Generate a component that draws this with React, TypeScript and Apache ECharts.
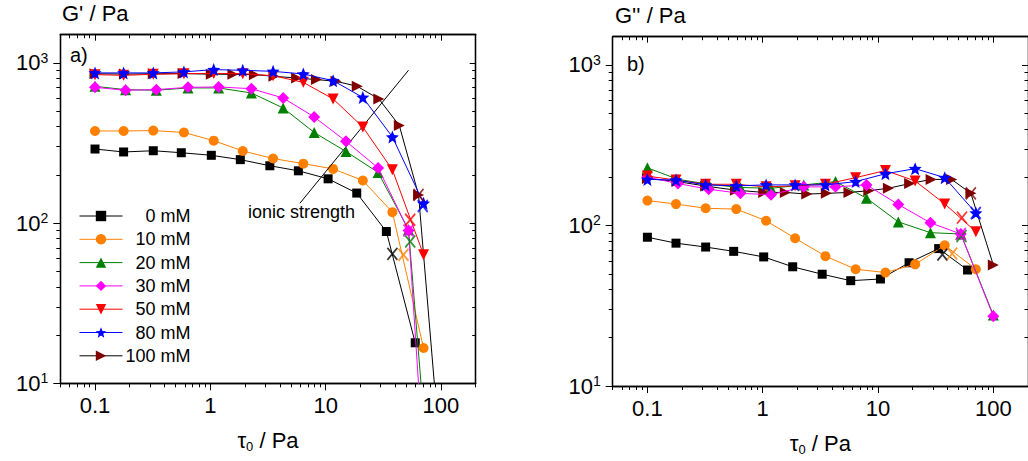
import React, { useEffect, useRef } from "react";
import * as echarts from "echarts";

const FONT = "'Liberation Sans', Arial, Helvetica, sans-serif";

const seriesNames = ["0 mM", "10 mM", "20 mM", "30 mM", "50 mM", "80 mM", "100 mM"];
const markerColors = ["#000000", "#FF8000", "#008000", "#FF00FF", "#FF0000", "#0000FF", "#800000"];
const lineColors = ["#000000", "#FF8000", "#008000", "#FF00FF", "#FF0000", "#0000FF", "#000000"];
const seriesZ = [3, 4, 5, 6, 7, 8, 2];

const STAR =
  "path://M0,-10L2.6,-3.6L9.5,-3.1L4.2,1.4L5.9,8.1L0,4.4L-5.9,8.1L-4.2,1.4L-9.5,-3.1L-2.6,-3.6Z";
const symbols = [
  "rect",
  "circle",
  "triangle",
  "diamond",
  "path://M0,0L10,0L5,8.66Z",
  STAR,
  "path://M0,0L8.66,5L0,10Z",
];
const symbolSizes = [9, 10, 11, 12, 11, 13, 11];
const CROSS = "path://M0,0L10,12M10,0L0,12";

// tick values
const xMajor = [0.1, 1, 10, 100];
const xMinor = [0.05, 0.06, 0.07, 0.08, 0.09, 0.2, 0.3, 0.4, 0.5, 0.6, 0.7, 0.8, 0.9, 2, 3, 4, 5, 6, 7, 8, 9, 20, 30, 40, 50, 60, 70, 80, 90, 200];
const yMajor = [10, 100, 1000];
const yMinor = [20, 30, 40, 50, 60, 70, 80, 90, 200, 300, 400, 500, 600, 700, 800, 900];

// shear stress values (Pa)
const tau0mM = [0.1, 0.177, 0.32, 0.56, 1.02, 1.82, 3.28, 5.8, 10.5, 18.6, 33.6, 59.8];
const tau10mM = [0.1, 0.177, 0.32, 0.59, 1.07, 1.91, 3.5, 6.4, 11.6, 21, 37.9, 70.6];
const tau20mM = [0.1, 0.184, 0.34, 0.64, 1.18, 2.27, 4.28, 7.95, 15, 28.5, 52.3, 100];
const tau100mM = [0.1, 0.18, 0.32, 0.58, 1.02, 1.57, 2.41, 3.56, 5.6, 8.32, 12.3, 18.8, 28.9, 43.5, 63.9, 100];

// G' (Pa)
const gStore0 = [290, 278, 283, 275, 265, 249, 228, 212, 189, 154, 88.6, 17.9];
const gStore10 = [376, 376, 378, 368, 327, 282, 253, 235, 218, 184.5, 117, 16.6];
const gStore20 = [714, 681, 675, 698, 698, 649, 523, 368, 280, 207, 91, 0.29];
const gStore30 = [704, 675, 681, 704, 708, 690, 604, 460, 324, 221, 90, 0.07];
const gStore50 = [845, 836, 849, 857, 860, 857, 832, 756, 596, 398, 215, 63.4];
const gStore80 = [866, 866, 866, 879, 908, 899, 886, 853, 775, 609, 345, 133];
const gStore100 = [855, 852, 855, 858, 850, 849, 845, 825, 805, 787, 768, 714, 596, 407, 150, 3.2];

// G'' (Pa)
const gLoss0 = [84.5, 77.6, 73.4, 69, 63.7, 55.3, 49.7, 45.3, 46.4, 58.6, 71.8, 52.8];
const gLoss10 = [143, 136, 128, 126.5, 107, 83.3, 64.4, 53.4, 50.9, 57.3, 75.2, 53.4];
const gLoss20 = [228.6, 194, 180.6, 172.5, 170.6, 179, 187.6, 148, 105.3, 90.2, 88.5, 27.7];
const gLoss30 = [200.4, 182.4, 168.3, 158.5, 155.6, 174, 174, 179, 135.2, 103.9, 88.5, 27.2];
const gLoss50 = [203, 192, 180.6, 180.6, 174, 176.6, 180.6, 198.6, 220, 189.4, 136.3, 91.5];
const gLoss80 = [193.7, 192, 179, 176.6, 179, 179, 179, 187.6, 210, 226, 198.6, 119.6];
const gLoss100 = [196, 188, 176, 166, 160.7, 160.7, 156.9, 158.5, 160.7, 164.6, 170.6, 182.3, 193.7, 193.7, 158.5, 56.8];

// yield points (marked with crosses): [tau, G]
const yieldStore: [number, number][] = [
  [37.9, 64.3], [47.3, 63.4], [54.1, 76.7], [52.3, 90], [54.1, 105], [69.5, 128], [63.9, 150],
];
const yieldLoss: [number, number][] = [
  [36.2, 65.9], [44, 66.8], [53, 86], [52.3, 88.5], [53.5, 112], [70.5, 119.6], [63.9, 158.5],
];

const tauBySeries = [tau0mM, tau10mM, tau20mM, tau20mM, tau10mM, tau10mM, tau100mM];
const storeBySeries = [gStore0, gStore10, gStore20, gStore30, gStore50, gStore80, gStore100];
const lossBySeries = [gLoss0, gLoss10, gLoss20, gLoss30, gLoss50, gLoss80, gLoss100];

const AXC = "#000000";

function axisSet(gridIndex: number, dim: "x" | "y", extra: any) {
  const isX = dim === "x";
  const min = isX ? 0.05 : 10;
  const max = isX ? 200 : 1500;
  const major = isX ? xMajor : yMajor;
  const minor = isX ? xMinor : yMinor;
  const base = {
    type: "log",
    logBase: 10,
    gridIndex,
    min,
    max,
    splitLine: { show: false },
    axisLine: { show: true, onZero: false, lineStyle: { color: AXC, width: 1.3 } },
  };
  const posMain = isX ? "bottom" : "left";
  const posMirror = isX ? "top" : "right";
  return [
    {
      ...base,
      position: posMain,
      axisTick: { show: true, inside: false, length: 7, customValues: major, lineStyle: { color: AXC, width: 1 } },
      axisLabel: {
        show: true,
        customValues: major,
        color: "#000",
        fontFamily: FONT,
        ...(isX
          ? { fontSize: 22, margin: 11, formatter: (v: number) => String(v) }
          : {
              margin: 12,
              formatter: (v: number) => "{b|10}{s|" + Math.round(Math.log10(v)) + "}",
              rich: {
                b: { fontSize: 22, fontFamily: FONT, color: "#000", lineHeight: 24 },
                s: { fontSize: 14, fontFamily: FONT, color: "#000", verticalAlign: "top", lineHeight: 14 },
              },
            }),
      },
      ...extra,
    },
    {
      ...base,
      position: posMain,
      axisTick: { show: true, inside: false, length: 4, customValues: minor, lineStyle: { color: AXC, width: 1 } },
      axisLabel: { show: false },
    },
    {
      ...base,
      position: posMirror,
      axisTick: { show: true, inside: true, length: 6, customValues: major, lineStyle: { color: AXC, width: 1 } },
      axisLabel: { show: false },
    },
    {
      ...base,
      position: posMirror,
      axisTick: { show: true, inside: true, length: 3.5, customValues: minor, lineStyle: { color: AXC, width: 1 } },
      axisLabel: { show: false },
    },
  ];
}

const xName = {
  name: "{t|τ}{s|0}{t| / Pa}",
  nameLocation: "middle",
  nameGap: 44,
  nameTextStyle: {
    rich: {
      t: { fontSize: 22, fontFamily: FONT, color: "#000", lineHeight: 26 },
      s: { fontSize: 13, fontFamily: FONT, color: "#000", verticalAlign: "bottom", lineHeight: 13 },
    },
  },
};

export default function App() {
  const ref = useRef<HTMLDivElement>(null);
  useEffect(() => {
    if (!ref.current) return;
    const chart = echarts.init(ref.current, undefined, { renderer: "svg" });

    const series: any[] = [];
    [0, 1].forEach((g) => {
      const ys = g === 0 ? storeBySeries : lossBySeries;
      seriesNames.forEach((name, i) => {
        series.push({
          type: "line",
          name,
          xAxisIndex: g * 4,
          yAxisIndex: g * 4,
          data: tauBySeries[i].map((t, k) => [t, ys[i][k]]),
          symbol: symbols[i],
          symbolSize: symbolSizes[i],
          showAllSymbol: true,
          clip: true,
          itemStyle: { color: markerColors[i] },
          lineStyle: { color: lineColors[i], width: 1 },
          emphasis: { disabled: true },
          z: seriesZ[i],
        });
      });
      const yields = g === 0 ? yieldStore : yieldLoss;
      yields.forEach((p, i) => {
        series.push({
          type: "scatter",
          name: "yield-" + g + "-" + i,
          xAxisIndex: g * 4,
          yAxisIndex: g * 4,
          data: [p],
          symbol: CROSS,
          symbolSize: [10, 12],
          itemStyle: { color: "rgba(0,0,0,0)", borderColor: markerColors[i], borderWidth: 1.8 },
          emphasis: { disabled: true },
          z: 10,
        });
      });
    });

    series.push({
      type: "line",
      name: "arrow",
      xAxisIndex: 0,
      yAxisIndex: 0,
      data: [],
      markLine: {
        silent: true,
        symbol: ["none", "arrow"],
        symbolSize: [0, 11],
        label: { show: false },
        lineStyle: { color: "#000", width: 1, type: "solid" },
        data: [[{ coord: [5.98, 133] }, { coord: [52.3, 900] }]],
      },
    });

    const option: any = {
      animation: false,
      textStyle: { fontFamily: FONT },
      grid: [
        { left: 60.3, top: 34.7, width: 415.4, height: 348.6, containLabel: false },
        { left: 612.7, top: 36.7, width: 423, height: 355.6, containLabel: false },
      ],
      xAxis: [...axisSet(0, "x", xName), ...axisSet(1, "x", xName)],
      yAxis: [...axisSet(0, "y", {}), ...axisSet(1, "y", {})],
      legend: {
        show: true,
        orient: "vertical",
        left: 74,
        top: 202,
        itemWidth: 43,
        itemHeight: 13,
        itemGap: 5.3,
        selectedMode: false,
        formatter: "{r|{name}}",
        textStyle: {
          color: "#000",
          fontFamily: FONT,
          fontSize: 18,
          rich: { r: { width: 63, align: "right", fontSize: 18, fontFamily: FONT, color: "#000", lineHeight: 18 } },
        },
        data: seriesNames.map((n, i) => ({
          name: n,
          lineStyle: { color: lineColors[i], width: 1 },
          itemStyle: { color: markerColors[i] },
        })),
      },
      graphic: [
        { type: "text", left: 62, top: 2, style: { text: "G' / Pa", font: "22px " + FONT, fill: "#000" } },
        { type: "text", left: 615, top: 4, style: { text: "G'' / Pa", font: "22px " + FONT, fill: "#000" } },
        { type: "text", left: 70, top: 45, style: { text: "a)", font: "20px " + FONT, fill: "#000" } },
        { type: "text", left: 627, top: 54, style: { text: "b)", font: "20px " + FONT, fill: "#000" } },
        { type: "text", left: 248, top: 203, style: { text: "ionic strength", font: "18px " + FONT, fill: "#000" } },
      ],
      series,
    };
    chart.setOption(option);
    return () => chart.dispose();
  }, []);

  return (
    <div
      ref={ref}
      style={{ position: "absolute", left: 0, top: 0, width: 1028, height: 461, background: "#fff" }}
    />
  );
}
